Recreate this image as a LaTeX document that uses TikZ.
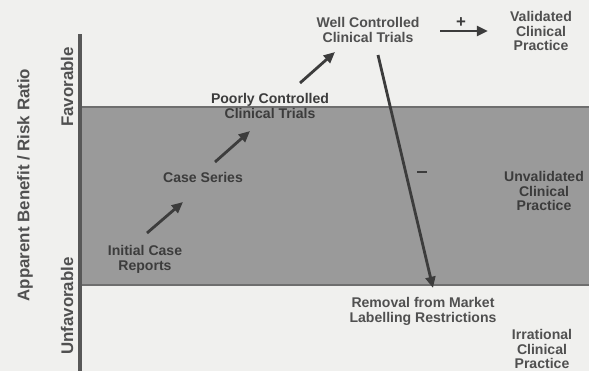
\documentclass[tikz,border=0pt]{standalone}
\usepackage{fontspec}
\setmainfont{Liberation Sans}
\usepackage{tikz}
\usetikzlibrary{arrows.meta,positioning}
\usepackage{xcolor}
\definecolor{paper}    {RGB}{240, 240, 238}
\definecolor{bandgray} {RGB}{154, 154, 154}
\definecolor{edgegray} {RGB}{110, 110, 110}
\definecolor{inkgray}  {RGB}{ 80,  80,  80}
\definecolor{darkink}  {RGB}{ 60,  60,  60}

\begin{document}
\begin{tikzpicture}[
  x=0.025cm,y=-0.025cm,
  every node/.style={font=\fontsize{10}{10.6}\selectfont\bfseries,text=inkgray},
  lbl/.style={align=center,inner sep=0pt},
  axlbl/.style={rotate=90,inner sep=0pt,font=\fontsize{12}{13}\selectfont\bfseries},
  arr/.style={-{Triangle[length=8pt,width=7pt]},line width=2pt,darkink},
  sign/.style={text=darkink,inner sep=0pt,font=\fontsize{12}{12}\selectfont\bfseries},
]

%% ── Canvas and band ──────────────────────────────────────────────────────
\fill[paper] (0,0) rectangle (589,371);
\useasboundingbox (0,0) rectangle (589,371);
\fill[bandgray] (80,107) rectangle (589,285);
\draw[edgegray,line width=0.8pt] (80,107) -- (589,107);
\draw[edgegray,line width=0.8pt] (80,285) -- (589,285);

%% ── Axis ─────────────────────────────────────────────────────────────────
\draw[edgegray!80!black,line width=2.2pt] (80,34) -- (80,371);
\node[axlbl] (fav)   at (67,87)  {Favorable};
\node[axlbl] (unfav) at (67,306) {Unfavorable};
\node[axlbl] (ratio) at (25,185) {Apparent Benefit / Risk Ratio};

%% ── Steps of evidence ────────────────────────────────────────────────────
\node[lbl,text=darkink] (initial) at (145,259) {Initial Case\\Reports};
\node[lbl,text=darkink] (series)  at (203,177) {Case Series};
\node[lbl,text=darkink] (poorly)  at (270,106) {Poorly Controlled\\Clinical Trials};
\node[lbl] (well)    at (368,30)  {Well Controlled\\Clinical Trials};

%% ── Outcomes ─────────────────────────────────────────────────────────────
\node[lbl] (valid)   at (541,31)  {Validated\\Clinical\\Practice};
\node[lbl,text=darkink] (unvalid) at (544,191) {Unvalidated\\Clinical\\Practice};
\node[lbl] (removal) at (423,311) {Removal from Market\\Labelling Restrictions};
\node[lbl] (irrat)   at (542,349) {Irrational\\Clinical\\Practice};

%% ── Arrow ends ───────────────────────────────────────────────────────────
\coordinate (s1) at (147,233);  \coordinate (e1) at (183,202);
\coordinate (s2) at (215,162);  \coordinate (e2) at (250,131);
\coordinate (s3) at (300,83);   \coordinate (e3) at (335,52);
\coordinate (s4) at (440,31);   \coordinate (e4) at (488,31);
\coordinate (s5) at (378,55);   \coordinate (e5) at (433,288);

%% ── Connections ──────────────────────────────────────────────────────────
\draw[arr] (s1) -- (e1);
\draw[arr] (s2) -- (e2);
\draw[arr] (s3) -- (e3);
\draw[arr] (s4) -- (e4);
\draw[arr] (s5) -- (e5);

%% signs on the two outcome arrows
\node[sign] (plus)  at (461,23)  {+};
\node[sign] (minus) at (422,172) {\rule{7pt}{1.8pt}};

\end{tikzpicture}
\end{document}
